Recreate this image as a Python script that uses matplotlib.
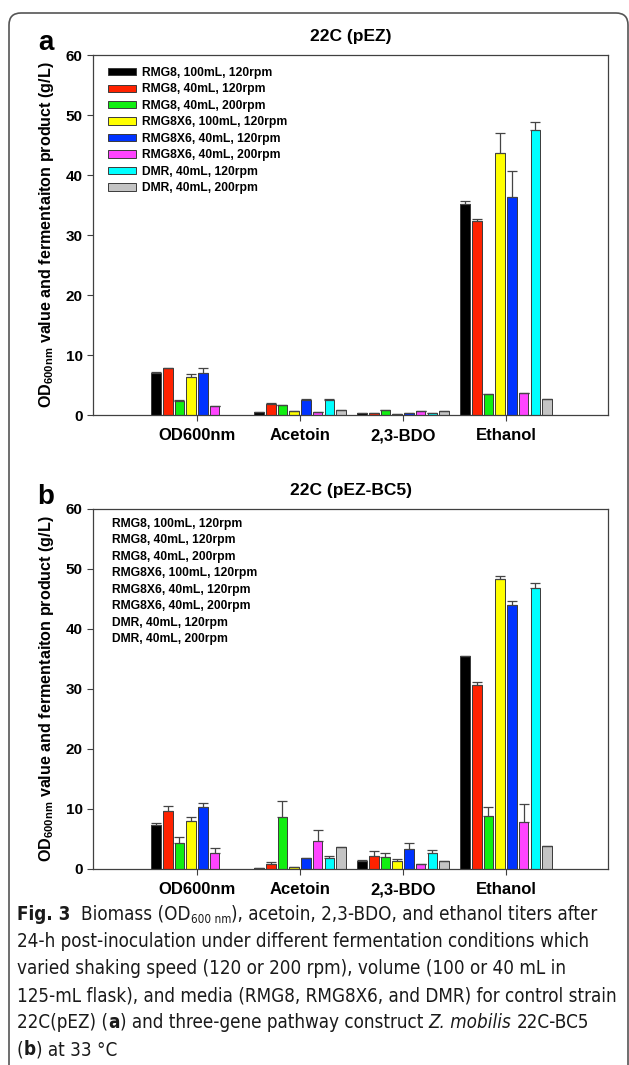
import numpy as np
import matplotlib.pyplot as plt
from matplotlib import font_manager as fm
from matplotlib.patches import FancyBboxPatch, Patch
from matplotlib.transforms import IdentityTransform

plt.rcParams['font.family'] = ['Liberation Sans', 'DejaVu Sans']
plt.rcParams['mathtext.fontset'] = 'custom'
plt.rcParams['mathtext.bf'] = 'Liberation Sans:bold'
plt.rcParams['mathtext.rm'] = 'Liberation Sans'

# --- data ---
categories = ['OD600nm', 'Acetoin', '2,3-BDO', 'Ethanol']
conditions = ['RMG8, 100mL, 120rpm', 'RMG8, 40mL, 120rpm', 'RMG8, 40mL, 200rpm',
              'RMG8X6, 100mL, 120rpm', 'RMG8X6, 40mL, 120rpm', 'RMG8X6, 40mL, 200rpm',
              'DMR, 40mL, 120rpm', 'DMR, 40mL, 200rpm']
colors = ['#000000', '#ff2200', '#11ee11', '#ffff00', '#0033ff', '#ff44ff', '#00ffff', '#c4c4c4']

# panel a, 22C (pEZ): rows = conditions, cols = categories
a_vals = np.array([
    [7.0, 0.50, 0.27, 35.2],
    [7.8, 1.83, 0.30, 32.4],
    [2.4, 1.67, 0.80, 3.5],
    [6.3, 0.67, 0.15, 43.6],
    [7.0, 2.50, 0.30, 36.4],
    [1.45, 0.55, 0.60, 3.7],
    [np.nan, 2.55, 0.35, 47.5],
    [np.nan, 0.77, 0.75, 2.6],
])
a_err = np.array([
    [0.2, 0.05, 0.0, 0.4],
    [0.1, 0.1, 0.0, 0.2],
    [0.15, 0.05, 0.05, 0.0],
    [0.5, 0.0, 0.0, 3.45],
    [0.9, 0.1, 0.0, 4.3],
    [0.1, 0.0, 0.05, 0.0],
    [0.0, 0.1, 0.0, 1.3],
    [0.0, 0.0, 0.0, 0.0],
])

# panel b, 22C (pEZ-BC5)
b_vals = np.array([
    [7.33, 0.22, 1.28, 35.45],
    [9.7, 0.89, 2.1, 30.67],
    [4.27, 8.7, 1.93, 8.9],
    [8.0, 0.33, 1.4, 48.3],
    [10.4, 1.83, 3.4, 44.0],
    [2.72, 4.67, 0.9, 7.9],
    [np.nan, 1.9, 2.7, 46.8],
    [np.nan, 3.65, 1.3, 3.8],
])
b_err = np.array([
    [0.33, 0.0, 0.2, 0.0],
    [0.85, 0.3, 0.9, 0.5],
    [1.05, 2.7, 0.77, 1.45],
    [0.65, 0.0, 0.33, 0.5],
    [0.55, 0.0, 0.9, 0.67],
    [0.7, 1.83, 0.0, 2.9],
    [0.0, 0.28, 0.55, 0.88],
    [0.0, 0.0, 0.0, 0.0],
])

W, H = 629, 1065
fig = plt.figure(figsize=(W / 100, H / 100), dpi=100)

# outer frame of the figure box
frame = FancyBboxPatch((9, -40), 619, H - 13 + 40, boxstyle='round,pad=0,rounding_size=12',
                       transform=IdentityTransform(), facecolor='none', edgecolor='#555555', lw=1.2)
fig.add_artist(frame)


def panel(top_px, vals, errs, title, letter, show_handles):
    ax = fig.add_axes([93 / W, 1 - (top_px + 360) / H, 515 / W, 360 / H])
    x = np.arange(len(categories))
    pitch, width = 0.1136, 0.092
    for i in range(len(conditions)):
        xi = x + (i - 3.5) * pitch
        ax.bar(xi, vals[i], width, color=colors[i], edgecolor='#3a3a3a', lw=0.7,
               label=conditions[i], zorder=2)
        ax.errorbar(xi, vals[i], yerr=[np.zeros(4), errs[i]], fmt='none', ecolor='#444444',
                    elinewidth=0.9, capsize=3.4, capthick=0.9, zorder=3)
    ax.set_xlim(-1.01, 3.99)
    ax.set_ylim(0, 60)
    ax.set_yticks(range(0, 61, 10))
    ax.set_xticks(x)
    ax.set_xticklabels(categories, fontsize=12, fontweight='bold')
    for lab in ax.get_yticklabels():
        lab.set_fontweight('bold')
        lab.set_fontsize(11)
    ax.tick_params(direction='out', length=4.5, width=0.8, color='#404040', pad=3)
    ax.tick_params(axis='x', pad=5)
    for s in ax.spines.values():
        s.set_color('#404040')
        s.set_linewidth(0.9)
    ax.set_ylabel(r'OD$_{\mathbf{600nm}}$ value and fermentaiton product (g/L)',
                  fontsize=11.6, fontweight='bold', labelpad=7)
    ax.set_title(title, fontsize=12.5, fontweight='bold', pad=10)
    fig.text(46 / W, 1 - (top_px - 12) / H, letter, fontsize=20, fontweight='bold',
             ha='center', va='center')
    if show_handles:
        handles = [Patch(facecolor=c, edgecolor='#3a3a3a', lw=0.7) for c in colors]
        ax.legend(handles, conditions, loc='upper left', bbox_to_anchor=(15 / 515, 1 - 12 / 360),
                  frameon=False, borderpad=0, borderaxespad=0, handlelength=2.3,
                  handleheight=0.55, handletextpad=0.55, labelspacing=0.37,
                  prop={'weight': 'bold', 'size': 8.7})
    else:
        handles = [Patch(facecolor='none', edgecolor='none') for c in colors]
        ax.legend(handles, conditions, loc='upper left', bbox_to_anchor=(19 / 515, 1 - 9 / 360),
                  frameon=False, borderpad=0, borderaxespad=0, handlelength=0,
                  handletextpad=0, labelspacing=0.37, prop={'weight': 'bold', 'size': 8.7})
    return ax


panel(55, a_vals, a_err, '22C (pEZ)', 'a', True)
panel(509, b_vals, b_err, '22C (pEZ-BC5)', 'b', False)

# --- caption ---
cap_kw = {'family': 'Roboto'}
for f in fm.fontManager.ttflist:
    if (('Narrow' in f.name or 'Condensed' in f.name or f.stretch in ('condensed', 'semi-condensed'))
            and f.style == 'normal' and f.weight in (400, 'normal', 'regular')):
        cap_kw = {'family': f.name, 'stretch': f.stretch}
        break

renderer = fig.canvas.get_renderer()
probe = fig.text(0, 0, '125-mL flask), and media (RMG8, RMG8X6, and DMR) for control strain',
                 fontsize=10, **cap_kw)
cap_size = 10 * 603 / probe.get_window_extent(renderer).width
probe.remove()

sp = fig.text(0, 0, 'x x', fontsize=cap_size, **cap_kw)
sp2 = fig.text(0, 0, 'xx', fontsize=cap_size, **cap_kw)
space_w = sp.get_window_extent(renderer).width - sp2.get_window_extent(renderer).width
sp.remove()
sp2.remove()

B = {'weight': 'bold'}
I = {'style': 'italic'}
caption = [
    [('Fig. 3', B), ('  Biomass (OD', {}), ('600 nm', {'sub': True}),
     ('), acetoin, 2,3-BDO, and ethanol titers after', {})],
    [('24-h post-inoculation under different fermentation conditions which', {})],
    [('varied shaking speed (120 or 200 rpm), volume (100 or 40 mL in', {})],
    [('125-mL flask), and media (RMG8, RMG8X6, and DMR) for control strain', {})],
    [('22C(pEZ) (', {}), ('a', B), (') and three-gene pathway construct ', {}),
     ('Z. mobilis', I), (' 22C-BC5', {})],
    [('(', {}), ('b', B), (') at 33 °C', {})],
]
line_y = [914, 941, 968, 995, 1022, 1049]
for y, segs in zip(line_y, caption):
    xp = 17
    for txt, st in segs:
        lead = len(txt) - len(txt.lstrip(' '))
        trail = len(txt) - len(txt.rstrip(' '))
        xp += lead * space_w
        kw = dict(cap_kw, fontsize=cap_size, va='baseline', color='#1a1a1a')
        yy = y + 6
        if st.get('sub'):
            kw['fontsize'] = cap_size * 0.62
            yy += 3
        if 'weight' in st:
            kw['fontweight'] = 'bold'
        if 'style' in st:
            kw['style'] = 'italic'
        t = fig.text(xp / W, 1 - yy / H, txt.strip(' '), **kw)
        xp = t.get_window_extent(renderer).x1 + trail * space_w

fig.savefig('out.png', dpi=100)
